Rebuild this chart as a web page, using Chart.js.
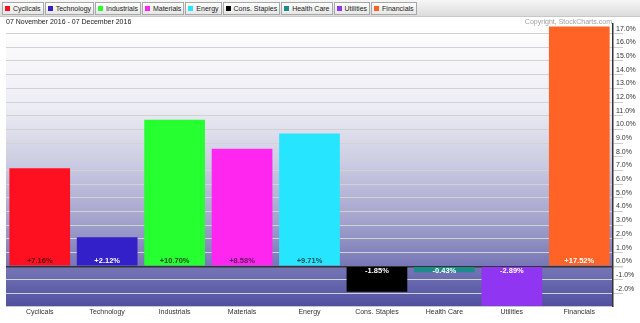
<!DOCTYPE html>
<html>
<head>
<meta charset="utf-8">
<script src="https://cdn.jsdelivr.net/npm/chart.js@4"></script>
<style>
    html, body { margin: 0; padding: 0; background: #fff; }
    body { width: 640px; height: 323px; position: relative; overflow: hidden; font-family: 'Liberation Sans', Arial, sans-serif; }
    #legendBar {
        position: absolute; left: 0; top: 0; width: 640px; height: 17px;
        background: linear-gradient(#f6f6f6, #dcdcdc);
        border-bottom: 1px solid #c8c8c8;
        display: flex; align-items: center; padding-left: 2px; box-sizing: border-box;
    }
    .lg-item {
        display: flex; align-items: center; height: 13px; margin-right: 1px;
        padding: 0 2px 0 2px; font-size: 7px; color: #222;
        border: 1px solid #a8a8a8; background: linear-gradient(#ffffff, #e6e6e6);
        box-sizing: border-box;
    }
    .lg-item span.sw { width: 5px; height: 5px; margin-right: 3px; display: inline-block; }
    #dateText { position: absolute; left: 6px; top: 18px; font-size: 7px; color: #222; }
    #copyText { position: absolute; right: 28px; top: 18px; font-size: 7px; color: #a0a0a0; }
    #wrap { position: absolute; left: 0; top: 0; width: 640px; height: 323px; }
</style>
</head>
<body>
<div id="wrap"><canvas id="sectorChart" width="640" height="323"></canvas></div>
<div id="legendBar"></div>
<div id="dateText">07 November 2016 - 07 December 2016</div>
<div id="copyText">Copyright, StockCharts.com</div>
<script>
// Data
const sectors = ['Cyclicals', 'Technology', 'Industrials', 'Materials', 'Energy', 'Cons. Staples', 'Health Care', 'Utilities', 'Financials'];
const changes = [7.16, 2.12, 10.70, 8.58, 9.71, -1.85, -0.43, -2.89, 17.52];
const barColors = ['#ff1020', '#3320c8', '#26ff30', '#ff26f0', '#26e6ff', '#000000', '#1a8c8c', '#9036f2', '#ff6426'];
const labelColors = ['#5a0a10', '#ffffff', '#1e4a1e', '#5a1a55', '#1a4a55', '#ffffff', '#ffffff', '#ffffff', '#ffffff'];
const yTicks = [-2, -1, 0, 1, 2, 3, 4, 5, 6, 7, 8, 9, 10, 11, 12, 13, 14, 15, 16, 17];

document.addEventListener('DOMContentLoaded', () => {
    // Custom legend (button strip)
    const legendBar = document.getElementById('legendBar');
    let legendHTML = '';
    sectors.forEach((s, i) => {
        legendHTML += `<div class="lg-item"><span class="sw" style="background:${barColors[i]}"></span>${s}</div>`;
    });
    legendBar.innerHTML = legendHTML;

    // Plot background gradient
    const bgPlugin = {
        id: 'plotBg',
        beforeDraw(chart) {
            const { ctx, chartArea: a } = chart;
            const g = ctx.createLinearGradient(0, a.top, 0, a.bottom);
            g.addColorStop(0, '#ffffff');
            g.addColorStop(0.3, '#ececf4');
            g.addColorStop(0.5, '#cacae2');
            g.addColorStop(0.7, '#a2a2cd');
            g.addColorStop(0.86, '#7676b6');
            g.addColorStop(1, '#5050a0');
            ctx.save();
            ctx.fillStyle = g;
            ctx.fillRect(a.left, a.top, a.right - a.left, a.bottom - a.top);
            ctx.restore();
        }
    };

    // Value labels inside bars
    const valuePlugin = {
        id: 'valueLabels',
        afterDatasetsDraw(chart) {
            const { ctx } = chart;
            const meta = chart.getDatasetMeta(0);
            const zero = chart.scales.y.getPixelForValue(0);
            ctx.save();
            ctx.font = 'bold 7.5px "Liberation Sans", Arial, sans-serif';
            ctx.textAlign = 'center';
            ctx.textBaseline = 'middle';
            meta.data.forEach((bar, i) => {
                const v = changes[i];
                const txt = (v >= 0 ? '+' : '') + v.toFixed(2) + '%';
                ctx.fillStyle = labelColors[i];
                ctx.fillText(txt, bar.x, v >= 0 ? zero - 5 : zero + 5);
            });
            ctx.restore();
        }
    };

    new Chart(document.getElementById('sectorChart'), {
        type: 'bar',
        data: {
            labels: sectors,
            datasets: [{
                data: changes,
                backgroundColor: barColors,
                borderWidth: 0,
                categoryPercentage: 1.0,
                barPercentage: 0.9
            }]
        },
        options: {
            responsive: false,
            animation: false,
            layout: { padding: { top: 24, left: 6, right: 0, bottom: 0 } },
            plugins: {
                legend: { display: false },
                tooltip: { enabled: false }
            },
            scales: {
                x: {
                    grid: { display: false, drawTicks: false },
                    border: { display: true, color: '#c8c8c8', width: 1 },
                    ticks: {
                        color: '#333',
                        padding: 2,
                        maxRotation: 0,
                        autoSkip: false,
                        font: { size: 7, family: "'Liberation Sans', Arial, sans-serif" }
                    },
                    afterFit: (scale) => { scale.height = 17; }
                },
                y: {
                    position: 'right',
                    min: -2.9,
                    max: 17.7,
                    afterBuildTicks: (scale) => {
                        scale.ticks = yTicks.map(v => ({ value: v }));
                    },
                    afterFit: (scale) => { scale.width = 27; },
                    grid: {
                        color: (c) => (c.tick && c.tick.value === 0) ? '#333333' : '#d2d2d2',
                        lineWidth: (c) => (c.tick && c.tick.value === 0) ? 1.5 : 1,
                        drawTicks: true,
                        tickLength: 10,
                        tickColor: '#cccccc'
                    },
                    border: { display: true, color: '#333', width: 1.5 },
                    ticks: {
                        color: '#333',
                        padding: -7,
                        labelOffset: -5,
                        font: { size: 7, family: "'Liberation Sans', Arial, sans-serif" },
                        callback: (v) => v.toFixed(1) + '%'
                    }
                }
            }
        },
        plugins: [bgPlugin, valuePlugin]
    });
});
</script>
</body>
</html>
